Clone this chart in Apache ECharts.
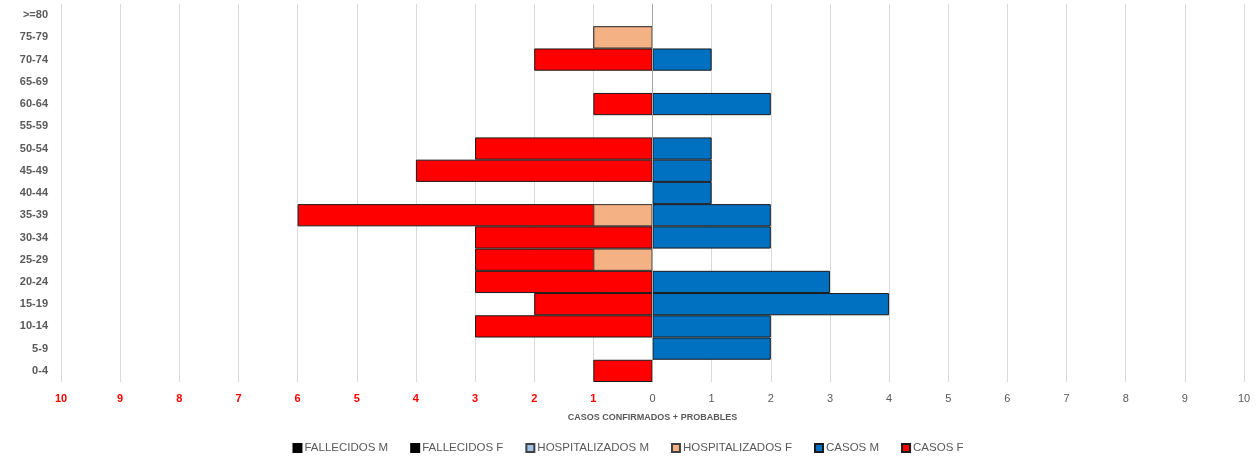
<!DOCTYPE html>
<html>
<head>
<meta charset="utf-8">
<script src="https://cdn.jsdelivr.net/npm/echarts@6/dist/echarts.min.js"></script>
<style>html,body{margin:0;padding:0;background:#fff}#c{width:1256px;height:457px}</style>
</head>
<body>
<div id="c"></div>
<script>
const categories = ['0-4','5-9','10-14','15-19','20-24','25-29','30-34','35-39','40-44','45-49','50-54','55-59','60-64','65-69','70-74','75-79','>=80'];
const casosM = [0,2,2,4,3,0,2,2,1,1,1,0,2,0,1,0,0];
const casosF = [1,0,3,2,3,3,3,6,0,4,3,0,1,0,2,1,0];
const hospM  = [0,0,0,0,0,0,0,0,0,0,0,0,0,0,0,0,0];
const hospF  = [0,0,0,0,0,1,0,1,0,0,0,0,0,0,0,1,0];
const fallM  = [0,0,0,0,0,0,0,0,0,0,0,0,0,0,0,0,0];
const fallF  = [0,0,0,0,0,0,0,0,0,0,0,0,0,0,0,0,0];
const xTicks = [-10,-9,-8,-7,-6,-5,-4,-3,-2,-1,0,1,2,3,4,5,6,7,8,9,10];

const FONT = 'Liberation Sans';
const toM = a => a.map(v => v === 0 ? null : v);
const toF = a => a.map(v => v === 0 ? null : -v);

function bar(name, data, color, border) {
  return {
    name, type: 'bar', data,
    barGap: '-100%', barCategoryGap: '0%',
    itemStyle: { color, borderColor: border, borderWidth: 1 }
  };
}

const chart = echarts.init(document.getElementById('c'));
chart.setOption({
  animation: false,
  grid: { left: 61, right: 12, top: 4, bottom: 75 },
  legend: {
    top: 437, left: 'center',
    itemWidth: 8, itemHeight: 8, itemGap: 22,
    icon: 'rect',
    textStyle: { fontFamily: FONT, fontSize: 11.5, color: '#595959', padding: [0,0,0,-2] },
    data: ['FALLECIDOS M','FALLECIDOS F','HOSPITALIZADOS M','HOSPITALIZADOS F','CASOS M','CASOS F']
  },
  xAxis: {
    type: 'value', min: -10, max: 10, interval: 1,
    name: 'CASOS CONFIRMADOS + PROBABLES',
    nameLocation: 'middle', nameGap: 31,
    nameTextStyle: { fontFamily: FONT, fontSize: 9, fontWeight: 'bold', color: '#595959' },
    axisLine: { show: false }, axisTick: { show: false },
    splitLine: { show: true, lineStyle: { color: '#d9d9d9', width: 1 } },
    axisLabel: {
      margin: 11,
      formatter: v => xTicks.indexOf(v) >= 0 ? (v < 0 ? '{n|' + Math.abs(v) + '}' : '{p|' + v + '}') : '',
      rich: {
        n: { fontFamily: FONT, fontSize: 11, fontWeight: 'bold', color: '#FF0000' },
        p: { fontFamily: FONT, fontSize: 11, color: '#595959' }
      }
    }
  },
  yAxis: {
    type: 'category', data: categories, z: 5,
    axisLine: { show: true, onZero: true, lineStyle: { color: '#a6a6a6', width: 1 } },
    axisTick: { show: false },
    axisLabel: { fontFamily: FONT, fontSize: 11, fontWeight: 'bold', color: '#595959', margin: 13 }
  },
  series: [
    bar('CASOS M', toM(casosM), '#0070C0', '#1a1a1a'),
    bar('CASOS F', toF(casosF), '#FF0000', '#1a1a1a'),
    bar('HOSPITALIZADOS M', toM(hospM), '#9DC3E6', '#404040'),
    bar('HOSPITALIZADOS F', toF(hospF), '#F4B183', '#404040'),
    bar('FALLECIDOS M', toM(fallM), '#000000', '#000000'),
    bar('FALLECIDOS F', toF(fallF), '#000000', '#000000')
  ]
});
</script>
</body>
</html>
